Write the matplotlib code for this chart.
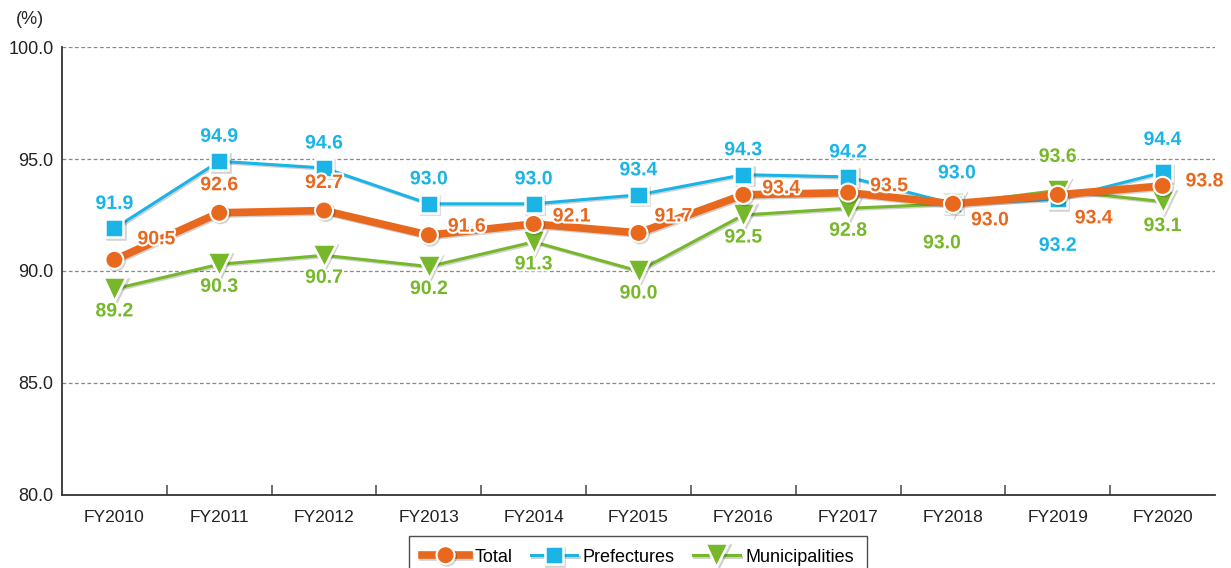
import matplotlib
matplotlib.use("Agg")
import matplotlib.pyplot as plt
import matplotlib.patheffects as pe
from matplotlib import font_manager

# Data
years = ["FY2010", "FY2011", "FY2012", "FY2013", "FY2014", "FY2015",
         "FY2016", "FY2017", "FY2018", "FY2019", "FY2020"]
total = [90.5, 92.6, 92.7, 91.6, 92.1, 91.7, 93.4, 93.5, 93.0, 93.4, 93.8]
prefectures = [91.9, 94.9, 94.6, 93.0, 93.0, 93.4, 94.3, 94.2, 93.0, 93.2, 94.4]
municipalities = [89.2, 90.3, 90.7, 90.2, 91.3, 90.0, 92.5, 92.8, 93.0, 93.6, 93.1]

# Value-label offsets (pixels: right, up)
total_off = [(42, 20), (0, 27), (0, 27), (38, 8), (38, 7), (35, 16),
             (38, 6), (41, 6), (37, -17), (36, -24), (42, 4)]
pref_off = [(0, 24)] * 8 + [(4, 30), (0, -47), (0, 32)]
muni_off = [(0, -23)] * 8 + [(-11, -40), (0, 33), (0, -25)]

names = {f.name for f in font_manager.fontManager.ttflist}
family = "Liberation Sans Narrow" if "Liberation Sans Narrow" in names else "Liberation Sans"
plt.rcParams["font.family"] = [family, "DejaVu Sans"]

ORANGE = "#E8691E"
BLUE = "#1AB4E6"
GREEN = "#76B82A"

fig = plt.figure(figsize=(12.31, 5.68), dpi=100)
ax = fig.add_axes([62 / 1231, 1 - 495 / 568, (1215 - 62) / 1231, (495 - 47) / 568])

x = list(range(len(years)))
shadow = [pe.SimpleLineShadow(offset=(1.0, -1.0), alpha=0.18), pe.Normal()]

l_m, = ax.plot(x, municipalities, color=GREEN, lw=2.2, marker="v", ms=17,
               mfc=GREEN, mec="white", mew=1.8, zorder=3, label="Municipalities",
               path_effects=shadow)
l_p, = ax.plot(x, prefectures, color=BLUE, lw=2.2, marker="s", ms=13,
               mfc=BLUE, mec="white", mew=1.8, zorder=4, label="Prefectures",
               path_effects=shadow)
l_t, = ax.plot(x, total, color=ORANGE, lw=5.5, marker="o", ms=13,
               mfc=ORANGE, mec="white", mew=1.5, zorder=5, label="Total",
               path_effects=shadow)

stroke = [pe.withStroke(linewidth=3, foreground="white")]
for vals, offs, col in ((municipalities, muni_off, GREEN),
                        (prefectures, pref_off, BLUE),
                        (total, total_off, ORANGE)):
    for xi, v, (dx, dy) in zip(x, vals, offs):
        ax.annotate(f"{v:.1f}", (xi, v), xytext=(dx * 0.72, dy * 0.72),
                    textcoords="offset points", ha="center", va="center",
                    fontsize=14, fontweight="bold", color=col, zorder=6,
                    path_effects=stroke)

ax.set_xlim(-0.5, len(years) - 0.5)
ax.set_ylim(80, 100)
ax.set_yticks([80, 85, 90, 95, 100])
ax.set_yticklabels([f"{v:.1f}" for v in [80, 85, 90, 95, 100]], fontsize=13, color="#222222")
ax.set_xticks(x)
ax.set_xticklabels(years, fontsize=12.5, color="#222222")
ax.tick_params(axis="x", length=0, pad=11)
ax.tick_params(axis="y", length=0, pad=6)

# Category separators on the bottom axis
ax.set_xticks([i + 0.5 for i in x[:-1]], minor=True)
ax.tick_params(axis="x", which="minor", direction="in", length=7, width=1.2, color="#555555")

for y in (85, 90, 95, 100):
    ax.axhline(y, color="#888888", lw=0.9, ls=(0, (3, 2)), zorder=1)

for s in ("top", "right"):
    ax.spines[s].set_visible(False)
for s in ("left", "bottom"):
    ax.spines[s].set_color("#333333")
    ax.spines[s].set_linewidth(1.3)

fig.text(30 / 1231, 1 - 20 / 568, "(%)", fontsize=13, ha="center", va="center", color="#222222")

leg = fig.legend(handles=[l_t, l_p, l_m], loc="center", bbox_to_anchor=(638 / 1231, 1 - 557 / 568),
                 ncol=3, frameon=True, fancybox=False, fontsize=13, handlelength=2.6,
                 handletextpad=0.3, columnspacing=1.0, borderpad=0.7)
leg.get_frame().set_edgecolor("#222222")
leg.get_frame().set_linewidth(1.0)

fig.savefig("out.png", dpi=100)
